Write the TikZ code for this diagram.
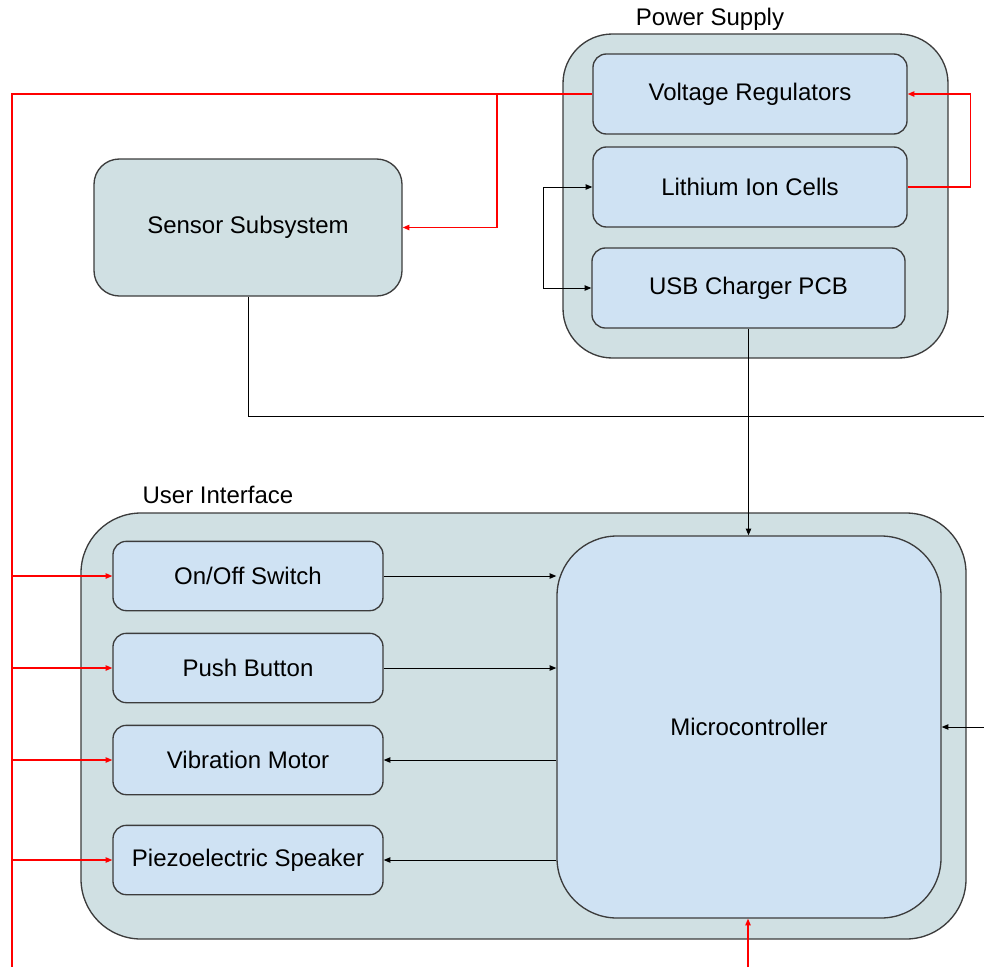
\documentclass[tikz,border=0pt]{standalone}
\usepackage{fontspec}
\setmainfont{Liberation Sans}
\usetikzlibrary{arrows.meta}
\definecolor{groupfill}{HTML}{D0E0E3}
\definecolor{partfill}{HTML}{CFE2F3}
\definecolor{edgegray}{HTML}{3C3C3C}
\tikzset{%
  group/.style = {shape=rectangle, draw=edgegray, line width=1pt,%
                  fill=groupfill, align=center},%
  part/.style  = {group, fill=partfill, rounded corners=10pt,%
                  minimum width=202.5pt, minimum height=52pt},%
  pwr/.style   = {draw=red, line width=1pt},%
  sig/.style   = {draw=black, line width=0.75pt}%
}

\begin{document}
\begin{tikzpicture}[x=0.75pt,y=-0.75pt,>={Triangle[length=5pt,width=4pt]},every node/.style={font=\fontsize{18}{21}\selectfont,inner sep=0pt}]
		\useasboundingbox (0,0) rectangle (984,967);
		\node[group, rounded corners=37pt, minimum width=288.75pt, minimum height=243pt] (supply) at (755.5,196) {};
		\node[anchor=base] at (710,25) {Power Supply};
		\node[part, minimum width=235.5pt, minimum height=60pt] (volt) at (750,94) {Voltage Regulators};
		\node[part, minimum width=235.5pt, minimum height=60pt] (cells) at (750,187) {Lithium Ion Cells};
		\node[part, minimum width=234.75pt, minimum height=60pt] (usb) at (748.5,288) {USB Charger PCB};
		\node[group, rounded corners=19pt, minimum width=231pt, minimum height=102.75pt] (sensor) at (248,227.5) {Sensor Subsystem};
		\node[group, rounded corners=45pt, minimum width=663.75pt, minimum height=319.5pt] (ui) at (523.5,726) {};
		\node[anchor=base] at (218,503) {User Interface};
		\node[part] (switch) at (248,576) {On/Off Switch};
		\node[part] (button) at (248,668) {Push Button};
		\node[part] (motor) at (248,760) {Vibration Motor};
		\node[part] (speaker) at (248,860) {Piezoelectric Speaker};
		\node[part, rounded corners=45pt, minimum width=288pt, minimum height=286.5pt] (mcu) at (749,727) {Microcontroller};
		\coordinate (busTop) at (12,94);
		\coordinate (busEnd) at (12,967);
		\coordinate (tap) at (497,94);
		\coordinate (battIn) at (748,967);
		\coordinate (sensOut) at (984,416);
		\coordinate (extIn) at (984,727);
		\draw[pwr] (volt.west) -- (busTop) -- (busEnd);
		\draw[pwr,->] (tap) |- (sensor.east);
		\foreach \n in {switch,button,motor,speaker}
			\draw[pwr,->] (busTop |- \n.west) -- (\n.west);
		\draw[pwr,->] (cells.east) -- ++(63,0) |- (volt.east);
		\draw[pwr,->] (battIn) -- (battIn |- mcu.south);
		\draw[sig,<->] (cells.west) -- ++(-49,0) |- (usb.west);
		\draw[sig,->] (usb.south) -- (usb.south |- mcu.north);
		\draw[sig] (sensor.south) |- (sensOut);
		\draw[sig,->] (extIn) -- (mcu.east);
		\draw[sig,->] (switch.east) -- (switch.east -| mcu.west);
		\draw[sig,->] (button.east) -- (button.east -| mcu.west);
		\draw[sig,->] (motor.east -| mcu.west) -- (motor.east);
		\draw[sig,->] (speaker.east -| mcu.west) -- (speaker.east);
\end{tikzpicture}
\end{document}
